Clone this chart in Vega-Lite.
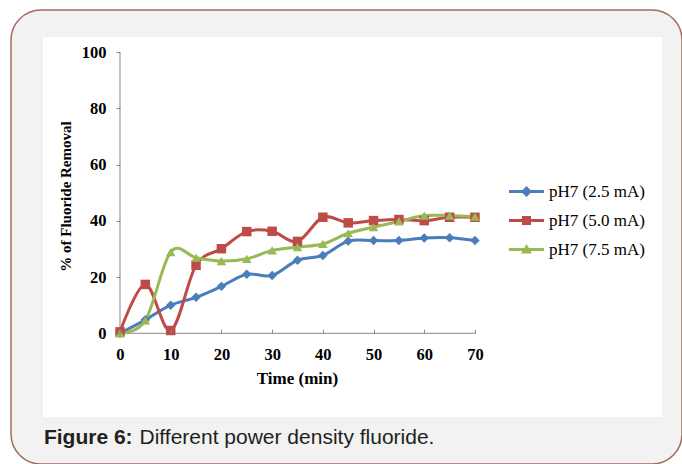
{
  "$schema": "https://vega.github.io/schema/vega-lite/v6.json",
  "width": 671,
  "height": 454,
  "autosize": {"type": "none"},
  "padding": {"left": 11, "top": 10, "right": 0, "bottom": 0},
  "background": "white",
  "config": {
    "view": {"fill": "#f2f2f2", "stroke": "#a26c5b", "strokeWidth": 1.5, "cornerRadius": 30}
  },
  "data": {
    "values": [
      {"time": 0, "series": "pH7 (2.5 mA)", "value": 0},
      {"time": 5, "series": "pH7 (2.5 mA)", "value": 4.8},
      {"time": 10, "series": "pH7 (2.5 mA)", "value": 10},
      {"time": 15, "series": "pH7 (2.5 mA)", "value": 12.8},
      {"time": 20, "series": "pH7 (2.5 mA)", "value": 16.7},
      {"time": 25, "series": "pH7 (2.5 mA)", "value": 21},
      {"time": 30, "series": "pH7 (2.5 mA)", "value": 20.6},
      {"time": 35, "series": "pH7 (2.5 mA)", "value": 26},
      {"time": 40, "series": "pH7 (2.5 mA)", "value": 27.7},
      {"time": 45, "series": "pH7 (2.5 mA)", "value": 32.8},
      {"time": 50, "series": "pH7 (2.5 mA)", "value": 33},
      {"time": 55, "series": "pH7 (2.5 mA)", "value": 33},
      {"time": 60, "series": "pH7 (2.5 mA)", "value": 33.9},
      {"time": 65, "series": "pH7 (2.5 mA)", "value": 34},
      {"time": 70, "series": "pH7 (2.5 mA)", "value": 33},
      {"time": 0, "series": "pH7 (5.0 mA)", "value": 0.5},
      {"time": 5, "series": "pH7 (5.0 mA)", "value": 17.4},
      {"time": 10, "series": "pH7 (5.0 mA)", "value": 1},
      {"time": 15, "series": "pH7 (5.0 mA)", "value": 24.2},
      {"time": 20, "series": "pH7 (5.0 mA)", "value": 30.1},
      {"time": 25, "series": "pH7 (5.0 mA)", "value": 36.2},
      {"time": 30, "series": "pH7 (5.0 mA)", "value": 36.3},
      {"time": 35, "series": "pH7 (5.0 mA)", "value": 32.7},
      {"time": 40, "series": "pH7 (5.0 mA)", "value": 41.3},
      {"time": 45, "series": "pH7 (5.0 mA)", "value": 39.3},
      {"time": 50, "series": "pH7 (5.0 mA)", "value": 40.1},
      {"time": 55, "series": "pH7 (5.0 mA)", "value": 40.5},
      {"time": 60, "series": "pH7 (5.0 mA)", "value": 40.1},
      {"time": 65, "series": "pH7 (5.0 mA)", "value": 41.3},
      {"time": 70, "series": "pH7 (5.0 mA)", "value": 41.3},
      {"time": 0, "series": "pH7 (7.5 mA)", "value": 0},
      {"time": 5, "series": "pH7 (7.5 mA)", "value": 4.6},
      {"time": 10, "series": "pH7 (7.5 mA)", "value": 28.9},
      {"time": 15, "series": "pH7 (7.5 mA)", "value": 26.9},
      {"time": 20, "series": "pH7 (7.5 mA)", "value": 25.7},
      {"time": 25, "series": "pH7 (7.5 mA)", "value": 26.5},
      {"time": 30, "series": "pH7 (7.5 mA)", "value": 29.5},
      {"time": 35, "series": "pH7 (7.5 mA)", "value": 30.7},
      {"time": 40, "series": "pH7 (7.5 mA)", "value": 31.8},
      {"time": 45, "series": "pH7 (7.5 mA)", "value": 35.6},
      {"time": 50, "series": "pH7 (7.5 mA)", "value": 37.8},
      {"time": 55, "series": "pH7 (7.5 mA)", "value": 39.8},
      {"time": 60, "series": "pH7 (7.5 mA)", "value": 41.9},
      {"time": 65, "series": "pH7 (7.5 mA)", "value": 41.9},
      {"time": 70, "series": "pH7 (7.5 mA)", "value": 41.5}
    ]
  },
  "layer": [
    {
      "data": {"values": [{}]},
      "mark": {"type": "rect", "fill": "white", "stroke": null},
      "encoding": {
        "x": {"datum": -15.18, "type": "quantitative"},
        "x2": {"datum": 106.87},
        "y": {"datum": -29.79, "type": "quantitative"},
        "y2": {"datum": 105.44}
      }
    },
    {
      "data": {"values": [{}]},
      "mark": {"type": "rule", "color": "#868686", "strokeWidth": 1},
      "encoding": {
        "x": {"datum": 0, "type": "quantitative"},
        "x2": {"datum": 70},
        "y": {"datum": 0, "type": "quantitative"}
      }
    },
    {
      "data": {"values": [{}]},
      "mark": {"type": "rule", "color": "#868686", "strokeWidth": 1},
      "encoding": {
        "x": {"datum": 0, "type": "quantitative"},
        "y": {"datum": 0, "type": "quantitative"},
        "y2": {"datum": 100}
      }
    },
    {
      "mark": {"type": "line", "interpolate": "cardinal", "strokeWidth": 3},
      "encoding": {
        "x": {"field": "time", "type": "quantitative", "scale": {"domain": [-21.49, 110.82], "nice": false, "zero": false}, "axis": {
          "zindex": 1,
          "values": [0, 10, 20, 30, 40, 50, 60, 70], "domain": false, "grid": false, "offset": -130.7,
          "tickSize": -4, "tickColor": "#868686", "labelFont": "Liberation Serif", "labelFontWeight": "bold",
          "labelFontSize": 16.5, "labelColor": "#000000", "labelPadding": 17, "labelFlush": false, "labelOverlap": false,
          "title": "Time (min)", "titleFont": "Liberation Serif", "titleFontSize": 17, "titleFontWeight": "bold",
          "titleColor": "#000000", "titleX": 286, "titleY": 45, "titleBaseline": "middle", "titleAlign": "center"
        }},
        "y": {"field": "value", "type": "quantitative", "scale": {"domain": [-46.51, 115.05], "nice": false, "zero": false}, "axis": {
          "zindex": 1,
          "values": [0, 20, 40, 60, 80, 100], "domain": false, "grid": false, "offset": -109,
          "tickSize": 4, "tickColor": "#868686", "labelFont": "Liberation Serif", "labelFontWeight": "bold",
          "labelFontSize": 16.5, "labelColor": "#000000", "labelPadding": 10, "labelFlush": false, "labelOverlap": false,
          "title": "% of Fluoride Removal", "titleFont": "Liberation Serif", "titleFontSize": 15, "titleFontWeight": "bold",
          "titleColor": "#000000", "titleX": -55, "titleY": 186, "titleBaseline": "middle", "titleAlign": "center", "titleAngle": 270
        }},
        "color": {
          "field": "series", "type": "nominal",
          "scale": {"domain": ["pH7 (2.5 mA)", "pH7 (5.0 mA)", "pH7 (7.5 mA)"], "range": ["#4a7ebb", "#be4b48", "#98b954"]},
          "legend": {
            "orient": "none", "legendX": 507, "legendY": 173, "title": null, "padding": 0,
            "labelFont": "Liberation Serif", "labelFontSize": 17, "labelColor": "#000000",
            "symbolSize": 100, "labelOffset": 14, "rowPadding": 11, "symbolStrokeWidth": 0,
            "encode": {"symbols": {"update": {
              "shape": {"signal": "datum.value === 'pH7 (2.5 mA)' ? 'M-3.5,-0.3H3.5V0.3H-3.5ZM0,-1.1L1.1,0L0,1.1L-1.1,0Z' : datum.value === 'pH7 (5.0 mA)' ? 'M-3.5,-0.3H3.5V0.3H-3.5ZM-0.9,-0.9H0.9V0.9H-0.9Z' : 'M-3.5,-0.3H3.5V0.3H-3.5ZM0,-1.1L1.1,0.8H-1.1Z'"},
              "fill": {"scale": "color", "field": "value"},
              "stroke": {"value": "transparent"},
              "opacity": {"value": 1}
            }}}
          }
        },
        "detail": {"field": "series"}
      }
    },
    {
      "transform": [{"filter": "datum.series === 'pH7 (2.5 mA)'"}],
      "mark": {"type": "point", "filled": true, "opacity": 1, "size": 90, "shape": "diamond"},
      "encoding": {
        "x": {"field": "time", "type": "quantitative"},
        "y": {"field": "value", "type": "quantitative"},
        "color": {"field": "series", "type": "nominal"}
      }
    },
    {
      "transform": [{"filter": "datum.series === 'pH7 (5.0 mA)'"}],
      "mark": {"type": "point", "filled": true, "opacity": 1, "size": 90, "shape": "square"},
      "encoding": {
        "x": {"field": "time", "type": "quantitative"},
        "y": {"field": "value", "type": "quantitative"},
        "color": {"field": "series", "type": "nominal"}
      }
    },
    {
      "transform": [{"filter": "datum.series === 'pH7 (7.5 mA)'"}],
      "mark": {"type": "point", "filled": true, "opacity": 1, "size": 90, "shape": "triangle-up"},
      "encoding": {
        "x": {"field": "time", "type": "quantitative"},
        "y": {"field": "value", "type": "quantitative"},
        "color": {"field": "series", "type": "nominal"}
      }
    },
    {
      "data": {"values": [{"t": "Figure 6:"}]},
      "mark": {"type": "text", "align": "left", "baseline": "alphabetic", "font": "Liberation Sans", "fontSize": 21, "fontWeight": "bold", "color": "#231f20"},
      "encoding": {
        "x": {"datum": -15.0, "type": "quantitative"},
        "y": {"datum": -39.4, "type": "quantitative"},
        "text": {"field": "t"}
      }
    },
    {
      "data": {"values": [{"t": "Different power density fluoride."}]},
      "mark": {"type": "text", "align": "left", "baseline": "alphabetic", "font": "Liberation Sans", "fontSize": 21, "fontWeight": "normal", "color": "#231f20"},
      "encoding": {
        "x": {"datum": 3.85, "type": "quantitative"},
        "y": {"datum": -39.4, "type": "quantitative"},
        "text": {"field": "t"}
      }
    }
  ]
}
